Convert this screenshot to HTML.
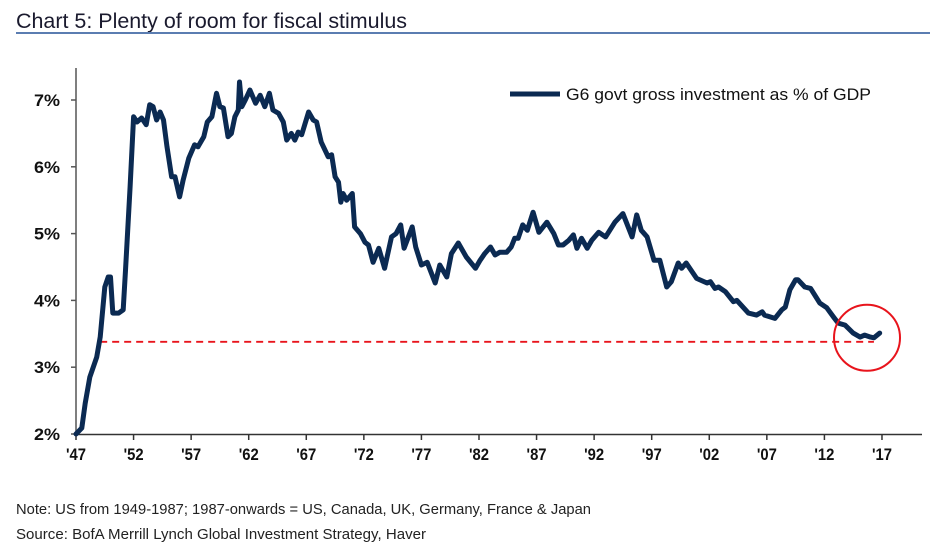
<!DOCTYPE html>
<html><head><meta charset="utf-8"><style>
body{margin:0;background:#fff;width:930px;height:557px;overflow:hidden}
svg{display:block;font-family:"Liberation Sans",sans-serif}
</style></head><body>
<svg id="chart" width="930" height="557">
<text x="16" y="28" font-size="21" fill="#1a1a2e" textLength="391" lengthAdjust="spacingAndGlyphs">Chart 5: Plenty of room for fiscal stimulus</text>
<rect x="16" y="32" width="914" height="2" fill="#5b7db1"/>
<g id="axes"></g>
<g id="marks"></g>
<line x1="510" y1="94" x2="560" y2="94" stroke="#0b2a52" stroke-width="5"/>
<text x="566" y="100" font-size="17" fill="#111" textLength="305" lengthAdjust="spacingAndGlyphs">G6 govt gross investment as % of GDP</text>
<text x="16" y="514" font-size="14.5" fill="#222" textLength="575" lengthAdjust="spacingAndGlyphs">Note: US from 1949-1987; 1987-onwards = US, Canada, UK, Germany, France &amp; Japan</text>
<text x="16" y="539" font-size="14.5" fill="#222" textLength="410" lengthAdjust="spacingAndGlyphs">Source: BofA Merrill Lynch Global Investment Strategy, Haver</text>
</svg>
<script>
const years=[1947.0,1947.5,1947.8,1948.2,1948.8,1949.1,1949.5,1949.8,1950.0,1950.2,1950.7,1951.1,1951.3,1951.7,1952.0,1952.3,1952.7,1953.1,1953.4,1953.7,1954.0,1954.3,1954.6,1954.9,1955.3,1955.6,1956.0,1956.3,1956.8,1957.3,1957.6,1958.1,1958.4,1958.8,1959.2,1959.5,1959.8,1960.2,1960.5,1960.8,1961.1,1961.2,1961.4,1961.7,1962.1,1962.6,1963.0,1963.4,1963.8,1964.1,1964.6,1965.0,1965.3,1965.7,1966.0,1966.3,1966.6,1967.2,1967.6,1967.9,1968.3,1968.9,1969.2,1969.5,1969.8,1970.0,1970.2,1970.5,1971.0,1971.2,1971.7,1972.1,1972.4,1972.8,1973.3,1973.8,1974.4,1974.8,1975.2,1975.5,1976.2,1976.5,1977.0,1977.5,1978.2,1978.6,1979.2,1979.6,1980.2,1980.9,1981.7,1982.1,1982.5,1983.0,1983.4,1983.8,1984.4,1984.8,1985.1,1985.4,1985.8,1986.2,1986.7,1987.2,1987.9,1988.5,1988.9,1989.3,1989.8,1990.2,1990.5,1990.9,1991.4,1991.8,1992.4,1993.0,1993.8,1994.5,1995.3,1995.7,1996.1,1996.6,1997.2,1997.7,1998.3,1998.7,1999.3,1999.6,2000.0,2000.9,2001.8,2002.1,2002.5,2002.8,2003.4,2004.1,2004.4,2005.4,2006.1,2006.6,2006.8,2007.7,2008.3,2008.6,2009.0,2009.5,2009.7,2010.3,2010.8,2011.6,2012.2,2012.8,2013.2,2013.8,2014.5,2015.1,2015.5,2016.0,2016.3,2016.8];
const values=[2.0,2.09,2.46,2.85,3.15,3.45,4.2,4.35,4.35,3.81,3.81,3.86,4.45,5.7,6.75,6.67,6.73,6.63,6.93,6.9,6.7,6.82,6.7,6.3,5.85,5.85,5.55,5.8,6.13,6.33,6.3,6.45,6.67,6.75,7.1,6.9,6.88,6.45,6.5,6.75,6.85,7.27,6.9,7.0,7.15,6.95,7.07,6.9,7.1,6.85,6.8,6.67,6.4,6.5,6.4,6.52,6.48,6.82,6.7,6.67,6.37,6.15,6.18,5.85,5.77,5.47,5.6,5.5,5.6,5.1,5.0,4.87,4.83,4.57,4.78,4.48,4.95,5.0,5.13,4.78,5.1,4.8,4.53,4.57,4.26,4.53,4.35,4.7,4.86,4.65,4.48,4.6,4.7,4.8,4.68,4.72,4.72,4.8,4.93,4.93,5.13,5.05,5.32,5.02,5.17,5.0,4.83,4.83,4.9,4.98,4.78,4.93,4.78,4.9,5.02,4.95,5.17,5.3,4.95,5.28,5.05,4.95,4.6,4.6,4.2,4.28,4.56,4.48,4.56,4.33,4.26,4.28,4.18,4.2,4.13,3.98,4.0,3.81,3.78,3.83,3.78,3.73,3.86,3.9,4.16,4.31,4.31,4.2,4.18,3.96,3.89,3.75,3.66,3.63,3.51,3.45,3.48,3.45,3.44,3.51];
const yTicks=[2,3,4,5,6,7];
const xTickYears=[1947,1952,1957,1962,1967,1972,1977,1982,1987,1992,1997,2002,2007,2012,2017];
const xTickLabels=["'47","'52","'57","'62","'67","'72","'77","'82","'87","'92","'97","'02","'07","'12","'17"];
const refLevel=[3.38];
const refRange=[1949.1,2016.3];

const NS='http://www.w3.org/2000/svg';
const X=y=>76+(y-1947)*11.514;
const Y=v=>434-(v-2)*66.8;
function mk(t,a,p){const e=document.createElementNS(NS,t);for(const k in a)e.setAttribute(k,a[k]);p.appendChild(e);return e;}
const ax=document.getElementById('axes'),mg=document.getElementById('marks');
const ya=mk('line',{x1:76,y1:68,x2:76,y2:435,stroke:'#555','stroke-width':1.5},ax);


const xa=mk('line',{x1:76,y1:434.5,x2:922,y2:434.5,stroke:'#333','stroke-width':1.5},ax);


yTicks.forEach(v=>{
 const t=mk('line',{x1:71,y1:Y(v),x2:76,y2:Y(v),stroke:'#555','stroke-width':1.5},ax);
 
 
 const l=mk('text',{x:60,y:Y(v)+6,'font-size':17,'font-weight':'bold','text-anchor':'end',fill:'#111',textLength:26,lengthAdjust:'spacingAndGlyphs'},ax);
 l.textContent=v+'%';
 
 
});
xTickYears.forEach((yr,i)=>{
 const t=mk('line',{x1:X(yr),y1:434,x2:X(yr),y2:440,stroke:'#333','stroke-width':1.5},ax);
 
 
 const l=mk('text',{x:X(yr),y:460,'font-size':17,'font-weight':'bold','text-anchor':'middle',fill:'#111',textLength:20,lengthAdjust:'spacingAndGlyphs'},ax);
 l.textContent=xTickLabels[i];
 
 
});
const ref=mk('line',{x1:X(refRange[0]),y1:Y(refLevel[0]),x2:X(refRange[1]),y2:Y(refLevel[0]),stroke:'#e8141c','stroke-width':1.8,'stroke-dasharray':'7 5'},mg);


const pts=years.map((y,i)=>X(y).toFixed(1)+','+Y(values[i]).toFixed(1)).join(' ');
const line=mk('polyline',{points:pts,fill:'none',stroke:'#0b2a52','stroke-width':5,'stroke-linejoin':'round','stroke-linecap':'round'},mg);


const c=mk('circle',{cx:X(2015.7),cy:Y(3.44),r:33,fill:'none',stroke:'#e8141c','stroke-width':2},mg);


</script>
</body></html>
